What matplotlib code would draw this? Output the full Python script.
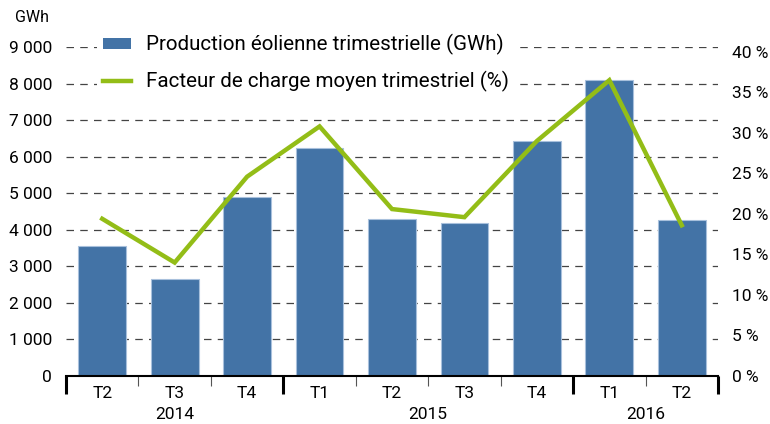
import matplotlib.pyplot as plt
import matplotlib as mpl
from matplotlib.patches import Patch
from matplotlib.lines import Line2D

plt.rcParams['font.family'] = ['Roboto', 'DejaVu Sans']

quarters = ['T2', 'T3', 'T4', 'T1', 'T2', 'T3', 'T4', 'T1', 'T2']
years = ['2014', '2015', '2016']
year_centers = [1, 4.5, 7.5]
year_bounds = [-0.5, 2.5, 6.5, 8.5]
production = [3550, 2660, 4910, 6230, 4290, 4190, 6430, 8090, 4280]
load_factor = [19.4, 14.0, 24.6, 30.8, 20.6, 19.6, 29.0, 36.5, 18.6]

left_ticks = list(range(0, 9001, 1000))
right_ticks = list(range(0, 41, 5))

bar_color = '#4373a6'
line_color = '#93bd17'

fig = plt.figure(figsize=(7.7, 4.24), dpi=100)
ax = fig.add_axes([66/770, 1 - 376/424, (718-66)/770, (376-47)/424])

ax.bar(range(9), production, width=0.66, color=bar_color,
       edgecolor='#a8c0dc', linewidth=0.8, zorder=3)
ax.set_xlim(-0.5, 8.5)
ax.set_ylim(0, 9000)
ax.set_yticks(left_ticks, [f'{v:,}'.replace(',', ' ') for v in left_ticks])
ax.yaxis.grid(True, color='#444444', linestyle=(0, (6, 5)), linewidth=0.9, zorder=0)
ax.set_axisbelow(True)
ax.tick_params(axis='y', length=0, labelsize=12.5, pad=10)

for s in ['top', 'left', 'right']:
    ax.spines[s].set_visible(False)
ax.spines['bottom'].set_linewidth(1.5)
ax.spines['bottom'].set_zorder(5)

# quarter labels
ax.set_xticks(range(9), quarters)
ax.tick_params(axis='x', length=0, labelsize=12.5, pad=7)

# boundary ticks
sec_minor = ax.secondary_xaxis('bottom')
sec_minor.set_xticks([0.5, 1.5, 3.5, 4.5, 5.5, 7.5], [''] * 6)
sec_minor.tick_params(length=7, width=0.8, color='#555555')
sec_minor.spines['bottom'].set_visible(False)

sec_major = ax.secondary_xaxis('bottom')
sec_major.set_xticks(year_bounds, [''] * 4)
sec_major.tick_params(length=13, width=2.2, color='black')
sec_major.spines['bottom'].set_visible(False)

sec_year = ax.secondary_xaxis('bottom')
sec_year.set_xticks(year_centers, years)
sec_year.tick_params(length=0, labelsize=12.5, pad=22)
sec_year.spines['bottom'].set_visible(False)

ax2 = ax.twinx()
ax2.plot(range(9), load_factor, color=line_color, linewidth=3.2, zorder=4,
         solid_joinstyle='miter')
ax2.set_ylim(0, 40.6)
ax2.set_yticks(right_ticks, [f'{v} %' for v in right_ticks])
ax2.tick_params(axis='y', length=0, labelsize=12.5, pad=10)
for s in ['top', 'left', 'right', 'bottom']:
    ax2.spines[s].set_visible(False)

fig.text(15/770, 1 - 18/424, 'GWh', fontsize=11.5, va='center', ha='left')

handles = [Patch(facecolor=bar_color, edgecolor='none'),
           Line2D([0], [0], color=line_color, linewidth=3.2)]
labels = ['Production éolienne trimestrielle (GWh)',
          'Facteur de charge moyen trimestriel (%)']
leg = fig.legend(handles, labels, loc='upper left',
                 bbox_to_anchor=(97/770, 1 - 28/424), fontsize=14.8,
                 frameon=True, facecolor='white', edgecolor='none',
                 framealpha=1, fancybox=False, handlelength=1.35,
                 handleheight=0.45, handletextpad=0.75, labelspacing=0.75,
                 borderpad=0.3, borderaxespad=0)

fig.savefig('out.png', dpi=100)
